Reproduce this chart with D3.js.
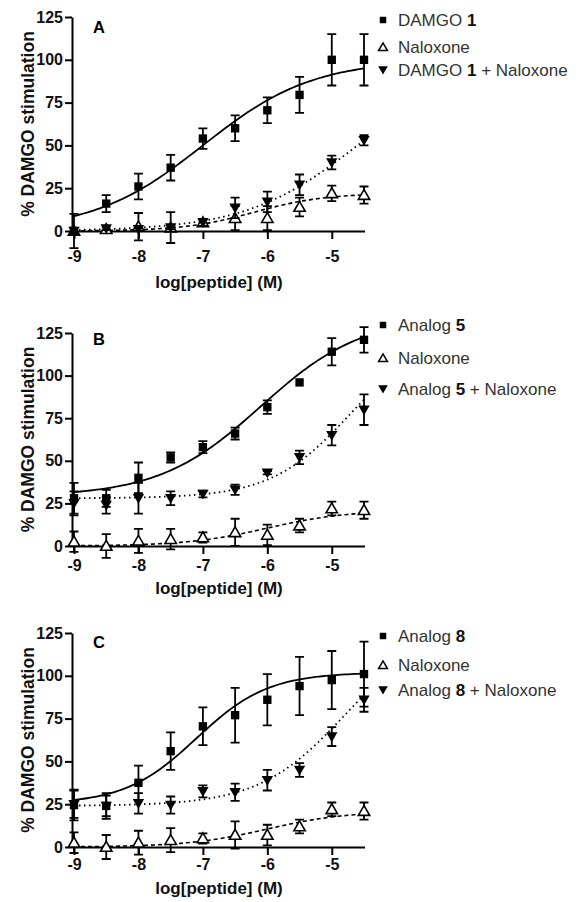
<!DOCTYPE html>
<html>
<head>
<meta charset="utf-8">
<script src="https://cdn.jsdelivr.net/npm/d3@7"></script>
<style>
  body { margin: 0; background: #fff; }
  text { font-family: "Liberation Sans", Arial, sans-serif; }
</style>
</head>
<body>
<svg width="579" height="902"></svg>
<script>
// общие данные
const logDose = [-9, -8.5, -8, -7.5, -7, -6.5, -6, -5.5, -5, -4.5];
const xTicks = [-9, -8, -7, -6, -5];
const yTicks = [0, 25, 50, 75, 100, 125];
const panelLetters = ["A", "B", "C"];
const agonistNames = ["DAMGO", "Analog", "Analog"];
const agonistNumbers = ["1", "5", "8"];

// панель A
const agonistA = [0, 16, 26, 37, 54, 60, 70.5, 79.5, 100, 100];
const agonistErrA = [10, 5, 7.5, 7.5, 6, 7.5, 7.5, 10.5, 15, 15];
const naloxoneA = [0, 1, 2.5, 2, 5, 7.5, 7.5, 14, 22, 21];
const naloxoneErrA = [0, 0, 8, 9, 2, 7, 7, 5.5, 4.5, 5];
const comboA = [0, 1.5, 1, 2, 5, 13.5, 17, 27, 40, 53];
const comboErrA = [0, 1, 1, 1, 2, 6, 6, 6, 4, 3];

// панель B
const agonistB = [28, 28, 40, 52, 58, 66, 81.5, 96, 114, 121];
const agonistErrB = [9, 5, 9, 3, 3.5, 3.5, 4, 0, 8, 7.5];
const naloxoneB = [2.5, 0, 3, 4, 5, 8, 6.5, 12, 22, 21];
const naloxoneErrB = [6, 7, 7, 6, 3, 8, 6, 4, 4, 5];
const comboB = [25, 24, 28, 28, 30.5, 33, 43, 52, 65, 80];
const comboErrB = [7, 5, 9, 4, 2, 3, 1, 4, 6, 9];

// панель C
const agonistC = [24.5, 24, 37.5, 56, 70.5, 77, 86, 94, 97.5, 101];
const agonistErrC = [9, 7.5, 10, 11, 11, 16, 15, 17, 17, 19];
const naloxoneC = [2.5, 0, 2.5, 4, 5, 7, 7, 12, 22, 21];
const naloxoneErrC = [6, 7, 7, 7, 3, 8, 6, 4, 4, 5];
const comboC = [25, 24, 25.5, 24.5, 32.5, 32, 39, 45, 64.5, 86];
const comboErrC = [8, 6, 6, 5, 3.5, 5, 6, 4, 5.5, 7];

// параметры сигмоид: [низ, верх, logEC50, наклон]
const fitAgonist = [[0, 100, -7, 0.51], [29, 135, -6.1, 0.55], [25, 102, -7.1, 0.78]];
const fitNaloxone = [[0, 22, -6.2, 0.8], [0, 21, -6, 0.7], [0, 21, -6, 0.7]];
const fitCombo = [[0, 100, -4.6, 0.5], [28, 128, -4.7, 0.7], [24, 130, -4.8, 0.65]];

const panels = [
  {agonist: agonistA, agonistErr: agonistErrA, naloxone: naloxoneA, naloxoneErr: naloxoneErrA, combo: comboA, comboErr: comboErrA},
  {agonist: agonistB, agonistErr: agonistErrB, naloxone: naloxoneB, naloxoneErr: naloxoneErrB, combo: comboB, comboErr: comboErrB},
  {agonist: agonistC, agonistErr: agonistErrC, naloxone: naloxoneC, naloxoneErr: naloxoneErrC, combo: comboC, comboErr: comboErrC}
];

// положение каждой панели на странице
const layout = [
  {top: 17, bottom: 231, tickPad: 12, title: 288, letter: 33, legend: [20, 47, 70]},
  {top: 333, bottom: 546, tickPad: 6, title: 594, letter: 345, legend: [325, 358, 389]},
  {top: 633, bottom: 847, tickPad: 4, title: 894, letter: 648, legend: [636, 665, 690]}
];

const svg = d3.select("svg");
const x = d3.scaleLinear().domain([-9, -4.5]).range([74, 364]);
const axisX = 72;

function sigmoid(p, t) {
  return p[0] + (p[1] - p[0]) / (1 + Math.pow(10, (p[2] - t) * p[3]));
}

const symSquare = d3.symbol().type(d3.symbolSquare).size(70);
const symTri = d3.symbol().type(d3.symbolTriangle).size(56);

function drawMarker(g, kind, cx, cy) {
  if (kind === "square") {
    g.append("path").attr("d", symSquare()).attr("transform", `translate(${cx},${cy})`)
      .attr("fill", "#000");
  } else if (kind === "up") {
    g.append("path").attr("d", symTri()).attr("transform", `translate(${cx},${cy + 1})`)
      .attr("fill", "#fff").attr("stroke", "#000").attr("stroke-width", 1.6);
  } else {
    g.append("path").attr("d", symTri()).attr("transform", `translate(${cx},${cy - 1}) rotate(180)`)
      .attr("fill", "#000");
  }
}

panels.forEach((d, i) => {
  const L = layout[i];
  const y = d3.scaleLinear().domain([0, 125]).range([L.bottom, L.top]);
  const g = svg.append("g");

  // оси
  const gx = g.append("g").attr("transform", `translate(0,${L.bottom})`)
    .call(d3.axisBottom(x).tickValues(xTicks).tickFormat(d3.format("d"))
      .tickSize(8).tickPadding(L.tickPad).tickSizeOuter(0));
  gx.select(".domain").attr("d", `M${axisX},0.5H${x(-4.5) + 1}`);
  const gy = g.append("g").attr("transform", `translate(${axisX},0)`)
    .call(d3.axisLeft(y).tickValues(yTicks).tickSize(7).tickPadding(2).tickSizeOuter(0));
  [gx, gy].forEach(a => {
    a.selectAll("path, line").attr("stroke", "#000").attr("stroke-width", 2);
    a.selectAll("text").attr("font-size", 16).attr("font-weight", "bold").attr("fill", "#111");
  });
  gx.selectAll("text").text(v => String(v).replace("-", "-"));

  g.append("text").attr("x", x(-6.75)).attr("y", L.title).attr("text-anchor", "middle")
    .attr("font-size", 17).attr("font-weight", "bold").attr("fill", "#111").text("log[peptide] (M)");
  g.append("text").attr("transform", `translate(34,${(L.top + L.bottom) / 2}) rotate(-90)`)
    .attr("text-anchor", "middle").attr("font-size", 17.5).attr("font-weight", "bold")
    .attr("fill", "#111").text("% DAMGO stimulation");
  g.append("text").attr("x", 93).attr("y", L.letter).attr("font-size", 16.5)
    .attr("font-weight", "bold").text(panelLetters[i]);

  // кривые аппроксимации
  const grid = d3.range(-9, -4.5 + 0.001, 0.05);
  const line = p => d3.line().x(t => x(t)).y(t => y(sigmoid(p, t)))(grid);
  g.append("path").attr("d", line(fitAgonist[i])).attr("fill", "none")
    .attr("stroke", "#000").attr("stroke-width", 1.8);
  g.append("path").attr("d", line(fitNaloxone[i])).attr("fill", "none")
    .attr("stroke", "#000").attr("stroke-width", 1.6).attr("stroke-dasharray", "4,3");
  g.append("path").attr("d", line(fitCombo[i])).attr("fill", "none")
    .attr("stroke", "#000").attr("stroke-width", 1.8).attr("stroke-dasharray", "1.5,3.5");

  // точки с ошибками
  const series = [
    {vals: d.naloxone, errs: d.naloxoneErr, kind: "up"},
    {vals: d.combo, errs: d.comboErr, kind: "down"},
    {vals: d.agonist, errs: d.agonistErr, kind: "square"}
  ];
  series.forEach(s => {
    s.vals.forEach((v, k) => {
      const cx = x(logDose[k]);
      const e = s.errs[k];
      if (e > 0) {
        const y1 = y(v + e), y2 = y(v - e);
        g.append("path")
          .attr("d", `M${cx},${y1}V${y2}M${cx - 4.5},${y1}H${cx + 4.5}M${cx - 4.5},${y2}H${cx + 4.5}`)
          .attr("stroke", "#000").attr("stroke-width", 1.8).attr("fill", "none");
      }
      drawMarker(g, s.kind, cx, y(v));
    });
  });

  // легенда
  const kinds = ["square", "up", "down"];
  const labels = [
    [agonistNames[i] + " ", agonistNumbers[i], ""],
    ["Naloxone", "", ""],
    [agonistNames[i] + " ", agonistNumbers[i], " + Naloxone"]
  ];
  kinds.forEach((k, j) => {
    const ly = L.legend[j];
    const lg = svg.append("g");
    if (k === "square") {
      lg.append("path").attr("d", d3.symbol().type(d3.symbolSquare).size(42)())
        .attr("transform", `translate(383,${ly})`).attr("fill", "#000");
    } else if (k === "up") {
      lg.append("path").attr("d", d3.symbol().type(d3.symbolTriangle).size(34)())
        .attr("transform", `translate(383,${ly + 1})`).attr("fill", "#fff")
        .attr("stroke", "#000").attr("stroke-width", 1.5);
    } else {
      lg.append("path").attr("d", d3.symbol().type(d3.symbolTriangle).size(40)())
        .attr("transform", `translate(383,${ly - 1}) rotate(180)`).attr("fill", "#000");
    }
    const t = lg.append("text").attr("x", 398).attr("y", ly + 6).attr("font-size", 17).attr("fill", "#333");
    t.append("tspan").text(labels[j][0]);
    if (labels[j][1]) t.append("tspan").attr("font-weight", "bold").attr("fill", "#111").text(labels[j][1]);
    if (labels[j][2]) t.append("tspan").text(labels[j][2]);
  });
});
</script>
</body>
</html>
